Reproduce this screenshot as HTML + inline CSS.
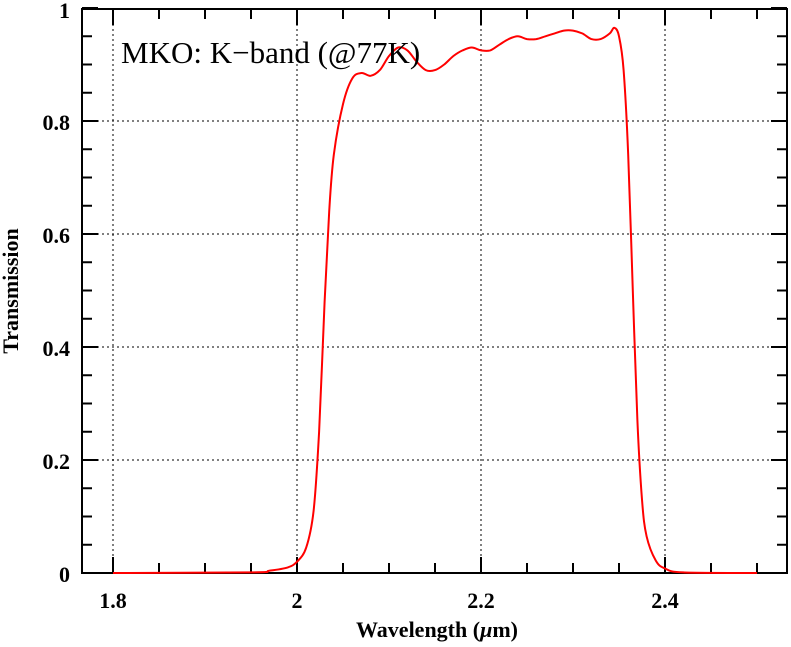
<!DOCTYPE html>
<html><head><meta charset="utf-8"><style>
body{margin:0;background:#fff;}
svg text{font-family:"Liberation Serif",serif;}
</style></head><body>
<svg id="s" width="791" height="642" xmlns="http://www.w3.org/2000/svg">
<g stroke="#000" stroke-width="1" stroke-dasharray="2,3" fill="none">
<line x1="113" y1="9" x2="113" y2="573"/><line x1="297" y1="9" x2="297" y2="573"/>
<line x1="481" y1="9" x2="481" y2="573"/><line x1="665" y1="9" x2="665" y2="573"/>
<line x1="82" y1="121" x2="787" y2="121"/><line x1="82" y1="234" x2="787" y2="234"/>
<line x1="82" y1="347" x2="787" y2="347"/><line x1="82" y1="460" x2="787" y2="460"/>
</g>
<g id="ticks" stroke="#000" stroke-width="2"></g>
<rect x="82" y="9" width="705" height="564" fill="none" stroke="#000" stroke-width="2"/>
<path id="c" fill="none" stroke="#f00" stroke-width="2"/>
<text x="121" y="63" font-size="31">MKO: K−band (@77K)</text>
<g font-size="22" font-weight="bold" text-anchor="end">
<text x="70" y="18">1</text><text x="70" y="130">0.8</text><text x="70" y="243">0.6</text>
<text x="70" y="356">0.4</text><text x="70" y="469">0.2</text><text x="70" y="582">0</text>
</g>
<g font-size="22" font-weight="bold" text-anchor="middle">
<text x="113" y="608">1.8</text><text x="297" y="608">2</text><text x="481" y="608">2.2</text><text x="665" y="608">2.4</text>
<text x="437" y="637">Wavelength (<tspan font-style="italic">μ</tspan>m)</text>
<text transform="translate(18,291) rotate(-90)">Transmission</text>
</g>
</svg>
<script>
var X=l=>113+(l-1.8)*920, Y=t=>573-t*565;
var g=document.getElementById('ticks'),h='';
for(var l=1.8;l<2.53;l+=0.05){var x=X(l),len=(Math.round(l*100)%20==0)?16:10;h+='<line x1="'+x+'" y1="573" x2="'+x+'" y2="'+(573-len)+'"/><line x1="'+x+'" y1="9" x2="'+x+'" y2="'+(9+len)+'"/>';}
for(var t=0;t<=1.001;t+=0.05){var y=Y(t),len=(Math.round(t*100)%20==0)?16:10;h+='<line x1="82" y1="'+y+'" x2="'+(82+len)+'" y2="'+y+'"/><line x1="787" y1="'+y+'" x2="'+(787-len)+'" y2="'+y+'"/>';}
g.innerHTML=h;
var p=[[1.8,0],[1.95,0.001],[1.97,0.004],[1.99,0.01],[2.0,0.02],[2.01,0.045],[2.018,0.11],[2.024,0.25],[2.03,0.48],[2.035,0.64],[2.04,0.74],[2.05,0.83],[2.06,0.875],[2.07,0.885],[2.08,0.88],[2.09,0.89],[2.1,0.915],[2.11,0.93],[2.12,0.925],[2.13,0.905],[2.14,0.89],[2.15,0.89],[2.16,0.9],[2.17,0.915],[2.18,0.925],[2.19,0.93],[2.2,0.925],[2.21,0.925],[2.22,0.935],[2.23,0.945],[2.24,0.95],[2.25,0.945],[2.26,0.945],[2.27,0.95],[2.28,0.955],[2.29,0.96],[2.3,0.96],[2.31,0.955],[2.32,0.945],[2.33,0.945],[2.34,0.955],[2.345,0.965],[2.35,0.95],[2.355,0.89],[2.36,0.74],[2.365,0.5],[2.37,0.27],[2.375,0.13],[2.38,0.065],[2.39,0.022],[2.4,0.008],[2.42,0.001],[2.5,0]];
var P=p.map(q=>[X(q[0]),Y(q[1])]);
var d='M'+P[0][0].toFixed(1)+','+P[0][1].toFixed(1);
for(var i=0;i<P.length-1;i++){var a=P[Math.max(0,i-1)],b=P[i],c=P[i+1],e=P[Math.min(P.length-1,i+2)];
var c1=[b[0]+(c[0]-a[0])/6,b[1]+(c[1]-a[1])/6],c2=[c[0]-(e[0]-b[0])/6,c[1]-(e[1]-b[1])/6];
d+=' C'+c1.map(v=>v.toFixed(1))+' '+c2.map(v=>v.toFixed(1))+' '+c.map(v=>v.toFixed(1));}
document.getElementById('c').setAttribute('d',d);
</script>
</body></html>
